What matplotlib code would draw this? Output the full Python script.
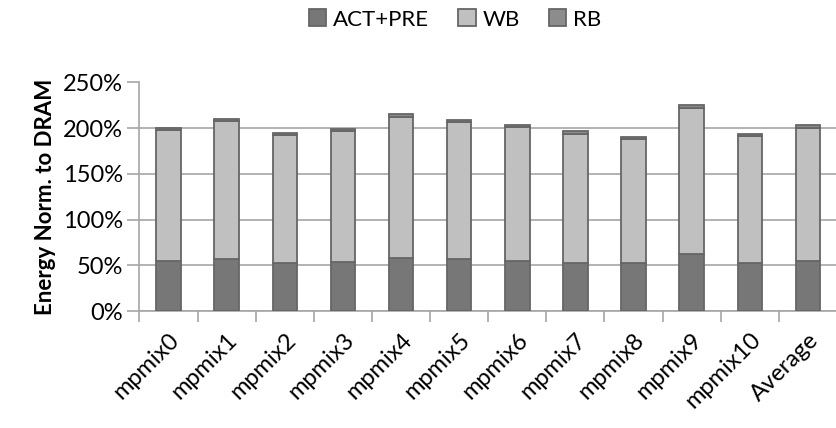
import numpy as np
import matplotlib.pyplot as plt
from matplotlib.ticker import PercentFormatter

plt.rcParams['font.family'] = ['Lato', 'DejaVu Sans']

# ---------------------------------------------------------------------------
# Data (percent of DRAM energy)
# ---------------------------------------------------------------------------
categories = ["mpmix0", "mpmix1", "mpmix2", "mpmix3", "mpmix4", "mpmix5",
              "mpmix6", "mpmix7", "mpmix8", "mpmix9", "mpmix10", "Average"]
act_pre = [55, 57, 53, 54, 58.5, 57, 55, 53, 52, 62, 53, 55]
wb = [143, 151, 140, 142.5, 154, 149.5, 146.5, 141, 136.5, 160.5, 138.5, 145.5]
rb = [2, 2, 2, 2.5, 3.5, 2, 2.5, 2.5, 2, 3, 2, 3]

series = [("ACT+PRE", act_pre, "#777777"),
          ("WB", wb, "#c0c0c0"),
          ("RB", rb, "#8c8c8c")]

fig = plt.figure(figsize=(8.37, 4.28), dpi=100)
ax = fig.add_axes([139.5 / 837, 1 - 311 / 428, (837 - 139.5) / 837, (311 - 82.5) / 428])

x = np.arange(len(categories))
bottom = np.zeros(len(categories))
for label, vals, color in series:
    ax.bar(x, vals, 0.42, bottom=bottom, color=color, edgecolor="#666666",
           linewidth=1.3, label=label, zorder=3)
    bottom += np.array(vals)

ax.set_xlim(-0.5, len(categories) - 0.5)
ax.set_ylim(0, 250)
ax.set_yticks(np.arange(0, 251, 50))
ax.yaxis.set_major_formatter(PercentFormatter(decimals=0))
ax.grid(axis='y', color="#a6a6a6", linewidth=1.2, zorder=0)

# category boundary ticks on x axis
ax.set_xticks(np.arange(len(categories) + 1) - 0.5, minor=False)
ax.set_xticklabels([])
ax.set_xticks(x, minor=True)
ax.set_xticklabels(categories, minor=True, rotation=45, ha='right',
                   rotation_mode='anchor', fontsize=17)
ax.tick_params(axis='x', which='minor', length=0, pad=13)
ax.tick_params(axis='x', which='major', length=8, width=1.2, color="#a6a6a6")
ax.tick_params(axis='y', length=9, width=1.2, color="#a6a6a6", labelsize=17, pad=3)

for side in ["top", "right"]:
    ax.spines[side].set_visible(False)
for side in ["left", "bottom"]:
    ax.spines[side].set_color("#a6a6a6")
    ax.spines[side].set_linewidth(1.2)

ax.set_ylabel("Energy Norm. to DRAM", fontsize=16, fontweight='bold', labelpad=5)

fig.legend(loc='upper center', bbox_to_anchor=(455 / 837, 1.025), ncol=3,
           frameon=False, fontsize=16, handlelength=0.8, handleheight=0.8,
           handletextpad=0.3, columnspacing=1.3)

fig.savefig("out.png", dpi=100)
